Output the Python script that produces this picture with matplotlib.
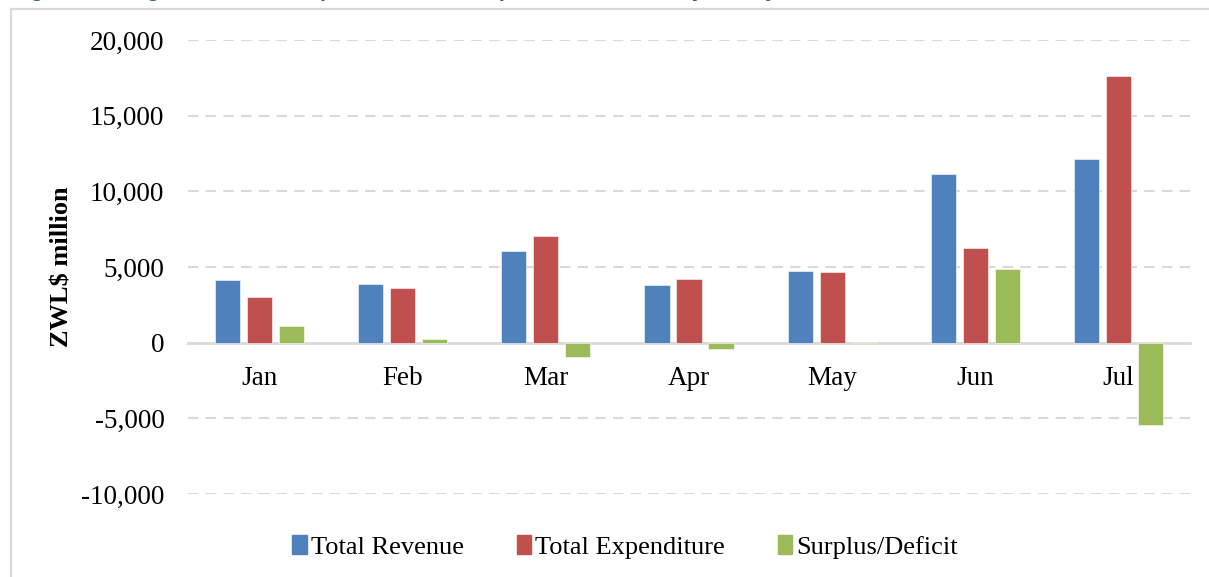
import matplotlib
matplotlib.use("Agg")
import matplotlib.pyplot as plt
import numpy as np
from matplotlib.patches import Rectangle
from matplotlib.lines import Line2D

months = ["Jan", "Feb", "Mar", "Apr", "May", "Jun", "Jul"]
total_revenue = [4150, 3890, 6090, 3820, 4720, 11130, 12160]
total_expenditure = [3050, 3640, 7040, 4220, 4700, 6270, 17600]
surplus_deficit = [1100, 250, -950, -400, 20, 4860, -5440]
series_names = ["Total Revenue", "Total Expenditure", "Surplus/Deficit"]
colors = ["#4F81BD", "#C0504D", "#9BBB59"]
yticks = [-10000, -5000, 0, 5000, 10000, 15000, 20000]

W, H = 1209, 577
fig = plt.figure(figsize=(W / 100, H / 100), dpi=100)
serif = "Liberation Serif"

# outer frame (light gray) of the embedded chart
fig.add_artist(Line2D([11 / W, 11 / W], [0, 1 - 9 / H], transform=fig.transFigure,
                      color="#D9D9D9", lw=1.6))
fig.add_artist(Line2D([11 / W, 1.0], [1 - 9 / H, 1 - 9 / H], transform=fig.transFigure,
                      color="#D9D9D9", lw=1.6))

# clipped title (only descenders visible in the reference)
fig.text(12 / W, 1 + 3.3 / H,
         "Figure 5: Budget Revenues, Expenditure and Surplus/Deficit, January to July 2023",
         color="#2F5597", fontsize=15, fontweight="bold", family="Liberation Sans",
         ha="left", va="baseline")

left, right = 188 / W, 1190 / W
bottom, top = 1 - 494 / H, 1 - 40 / H
ax = fig.add_axes([left, bottom, right - left, top - bottom])

x = np.arange(len(months))
step = 0.2236
bw = 0.175
for k, (vals, c, name) in enumerate(zip([total_revenue, total_expenditure, surplus_deficit],
                                         colors, series_names)):
    ax.bar(x + (k - 1) * step, vals, width=bw, color=c, label=name,
           edgecolor="white", linewidth=0.4, zorder=3)

ax.set_xlim(-0.5, len(months) - 0.5)
ax.set_ylim(-10000, 20000)
ax.set_yticks(yticks)
ax.set_yticklabels([f"{v:,}" for v in yticks], family=serif, fontsize=19.5)
ax.tick_params(axis="y", length=0, pad=17)

for v in yticks:
    if v != 0:
        ax.axhline(v, color="#D9D9D9", lw=1.5, ls=(0, (5, 3.5)), zorder=1)

for s in ["top", "right", "left"]:
    ax.spines[s].set_visible(False)
ax.spines["bottom"].set_position(("data", 0))
ax.spines["bottom"].set_color("#D9D9D9")
ax.spines["bottom"].set_linewidth(2)
ax.spines["bottom"].set_zorder(2)
ax.set_xticks(x)
ax.set_xticklabels(months, family=serif, fontsize=19.5)
ax.tick_params(axis="x", length=0, pad=17)

ax.set_ylabel("ZWL$ million", family=serif, fontsize=19, fontweight="bold")
ax.yaxis.set_label_coords(-114 / (1190 - 188), 0.5)

handles = [Rectangle((0, 0), 1, 1, color=c) for c in colors]
fig.legend(handles, series_names, loc="center", bbox_to_anchor=(625 / W, 1 - 547 / H),
           ncol=3, frameon=False, prop={"family": serif, "size": 19},
           handlelength=0.55, handleheight=0.75, handletextpad=0.15, columnspacing=2.0)

fig.savefig("out.png", dpi=100)
